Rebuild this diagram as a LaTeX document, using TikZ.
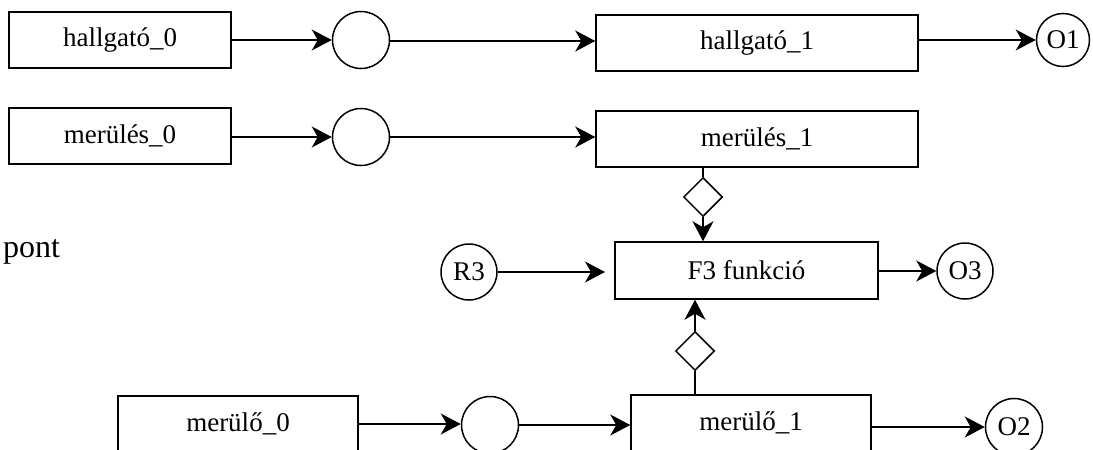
\documentclass[tikz,border=0pt]{standalone}
\usepackage{fontspec}
\setmainfont{Liberation Serif}
\usetikzlibrary{shapes.geometric,arrows.meta,calc}
\begin{document}
\begin{tikzpicture}[x=1pt,y=-1pt,
  every node/.style={font=\fontsize{27}{30}\selectfont},
  box/.style={draw,line width=1.5pt,rectangle,inner sep=0pt,minimum height=56pt},
  circ/.style={draw,line width=1.5pt,circle,inner sep=0pt},
  dia/.style={draw,line width=1.5pt,diamond,inner sep=0pt,minimum size=39pt},
  conn/.style={line width=1.5pt},
  arr/.style={line width=1.5pt,-{Stealth[length=20pt,width=21pt,inset=6pt]}}]
\clip (0,0) rectangle (1093,450);
% row 1
\node[box,minimum width=222pt] (h0) at (120,40) {hallgató\_0};
\node[circ,minimum size=57pt] (c1) at (361,40) {};
\node[box,minimum width=322pt] (h1) at (757,43) {hallgató\_1};
\node[circ,minimum size=53pt] (o1) at (1063,40) {O1};
% row 2
\node[box,minimum width=222pt] (m0) at (120,136) {merülés\_0};
\node[circ,minimum size=57pt] (c2) at (361,137) {};
\node[box,minimum width=322pt] (m1) at (757,139) {merülés\_1};
\node[dia] (d1) at (703,197) {};
% function row
\node[box,minimum width=263pt,minimum height=57pt] (f3) at (746.5,270.5) {F3 funkció};
\node[circ,minimum size=56pt] (r3) at (469,272) {R3};
\node[circ,minimum size=56pt] (o3) at (965,271) {O3};
\coordinate (r3end) at (605,272);
\node[anchor=base west,font=\fontsize{32}{36}\selectfont,inner sep=0pt] (pont) at (3,257) {pont};
% bottom row
\node[dia] (d2) at (695,351) {};
\node[box,minimum width=240pt] (mo1) at (751,423) {merülő\_1};
\node[box,minimum width=240pt] (mo0) at (238,424) {merülő\_0};
\node[circ,minimum size=57pt] (c3) at (490,425) {};
\node[circ,minimum size=57pt] (o2) at (1014,427) {O2};
% connectors
\draw[arr] (h0.east) -- (h0.east -| c1.west);
\draw[arr] ($(c1.east)+(0,1)$) -- ($(c1.east -| h1.west)+(0,1)$);
\draw[arr] (h1.east |- o1.west) -- (o1.west);
\draw[arr] (c2.west -| m0.east) -- (c2.west);
\draw[arr] (c2.east) -- (c2.east -| m1.west);
\draw[conn] (m1.south -| d1.north) -- (d1.north);
\draw[arr] (d1.south) -- (d1.south |- f3.north);
\draw[arr] (r3.east) -- (r3end);
\draw[arr] (f3.east |- o3.west) -- (o3.west);
\draw[conn] (mo1.north -| d2.south) -- (d2.south);
\draw[arr] (d2.north) -- (d2.north |- f3.south);
\draw[arr] (mo0.east) -- (mo0.east -| c3.west);
\draw[arr] (c3.east) -- (c3.east -| mo1.west);
\draw[arr] (mo1.east |- o2.west) -- (o2.west);
\end{tikzpicture}
\end{document}
